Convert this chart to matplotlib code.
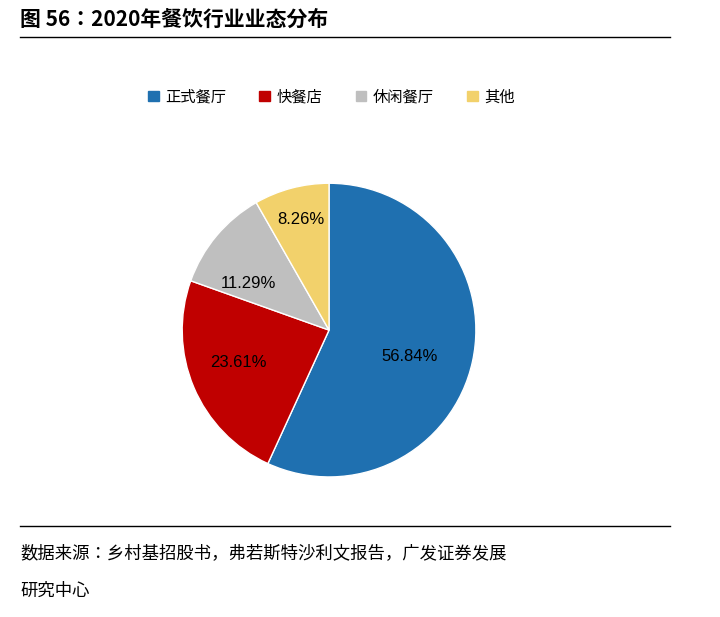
import matplotlib
matplotlib.use("Agg")
import matplotlib.pyplot as plt
from matplotlib import font_manager as fm
from matplotlib.lines import Line2D
from matplotlib.patches import Patch

cjk = None
for f in fm.findSystemFonts():
    n = f.lower()
    if 'notosanscjk' in n.replace(' ', '').replace('-', '') or 'notosanssc' in n.replace('-', ''):
        cjk = f
        if 'regular' in n:
            break
if cjk:
    fm.fontManager.addfont(cjk)
    cname = fm.FontProperties(fname=cjk).get_name()
else:
    cname = 'Noto Sans CJK SC'
plt.rcParams['font.family'] = [cname, 'DejaVu Sans']

categories = ['正式餐厅', '快餐店', '休闲餐厅', '其他']
values = [56.84, 23.61, 11.29, 8.26]
colors = ['#1F70B0', '#C00000', '#BFBFBF', '#F2D16B']

fig = plt.figure(figsize=(7.2, 6.17), dpi=100)
fig.text(0.028, 0.968, '图 56：2020年餐饮行业业态分布', fontsize=15, fontweight='bold', va='center', ha='left')
fig.add_artist(Line2D([0.028, 0.93], [0.94, 0.94], color='black', lw=1))
fig.add_artist(Line2D([0.028, 0.93], [0.147, 0.147], color='black', lw=1))
fig.text(0.028, 0.103, '数据来源：乡村基招股书，弗若斯特沙利文报告，广发证券发展', fontsize=12.5, va='center')
fig.text(0.028, 0.043, '研究中心', fontsize=12.5, va='center')

w, h = 0.408 * 1.1, 0.476 * 1.1
ax = fig.add_axes([0.457 - w / 2, 0.465 - h / 2, w, h])
wedges, texts = ax.pie(values, colors=colors, startangle=90, counterclock=False,
                       wedgeprops=dict(edgecolor='white', linewidth=1))
ax.set_xlim(-1.1, 1.1)
ax.set_ylim(-1.1, 1.1)
label_pos = [(0.55, -0.18), (-0.62, -0.22), (-0.55, 0.32), (-0.19, 0.75)]
for v, (x, y) in zip(values, label_pos):
    ax.text(x, y, f'{v:.2f}%', ha='center', va='center', fontsize=12, family='Liberation Sans')
ax.set_aspect('equal')

handles = [Patch(color=c) for c in colors]
fig.legend(handles, categories, loc='center', bbox_to_anchor=(0.46, 0.843), ncol=4,
           frameon=False, fontsize=11, handlelength=0.7, handleheight=0.7, columnspacing=2.2, handletextpad=0.4)
fig.savefig('out.png', dpi=100)
